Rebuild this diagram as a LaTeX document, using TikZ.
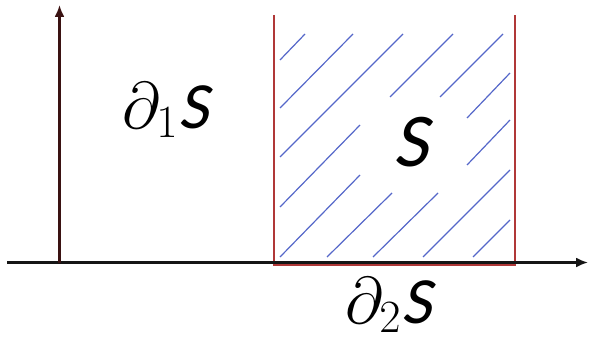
\documentclass[tikz,border=0pt]{standalone}
\usepackage{fix-cm}
\usepackage{fontspec}
\usepackage{amsmath}
\usepackage{tikz}
\usetikzlibrary{arrows.meta}
\newfontfamily\labelfont[FakeSlant=0.2]{Carlito}
\definecolor{axisblack}{HTML}{151515}
\definecolor{axisbrown}{HTML}{3A1212}
\definecolor{edgered}{HTML}{B03838}
\definecolor{hatchblue}{HTML}{5567C9}
\newcommand{\setS}{{\labelfont S}}

\begin{document}
\begin{tikzpicture}[x=1pt,y=-1pt]
\useasboundingbox (0,0) rectangle (591,337);
\coordinate (xstart) at (7,262.5); \coordinate (xend) at (588,262.5);
\coordinate (ybase) at (59.5,262.5); \coordinate (yend) at (59.5,5);
\coordinate (bl) at (274,265); \coordinate (tl) at (274,15);
\coordinate (br) at (515,265); \coordinate (tr) at (515,15);
% hatching of S
\foreach \xa/\ya/\xb/\yb in {280/60/305/34, 280/108/353/34, 280/157/403/34, 390/97/453/34, 440/97/503/34, 280/207/360/125, 467/118/510/73, 467/165/510/120, 280/257/360/175, 327/257/392/193, 373/257/438/193, 423/257/510/170, 473/257/510/220}
  \draw[hatchblue,line width=1.2pt] (\xa,\ya)--(\xb,\yb);
\draw[edgered,line width=2.4pt] (tl)--(bl)--(br)--(tr);
\draw[-{Latex[length=12pt,width=10pt]},axisblack,line width=2.2pt] (xstart)--(xend);
\draw[-{Latex[length=12pt,width=10pt]},axisbrown,line width=2.2pt] (ybase)--(yend);
\node[anchor=base west,inner sep=0,font=\fontsize{66}{72}\selectfont] (d1S) at (122,128) {$\partial_1$\setS};
\node[anchor=base west,inner sep=0,font=\fontsize{76}{84}\selectfont] (S) at (393,166) {\setS};
\node[anchor=base west,inner sep=0,font=\fontsize{66}{72}\selectfont] (d2S) at (345,323) {$\partial_2$\setS};
\end{tikzpicture}
\end{document}
